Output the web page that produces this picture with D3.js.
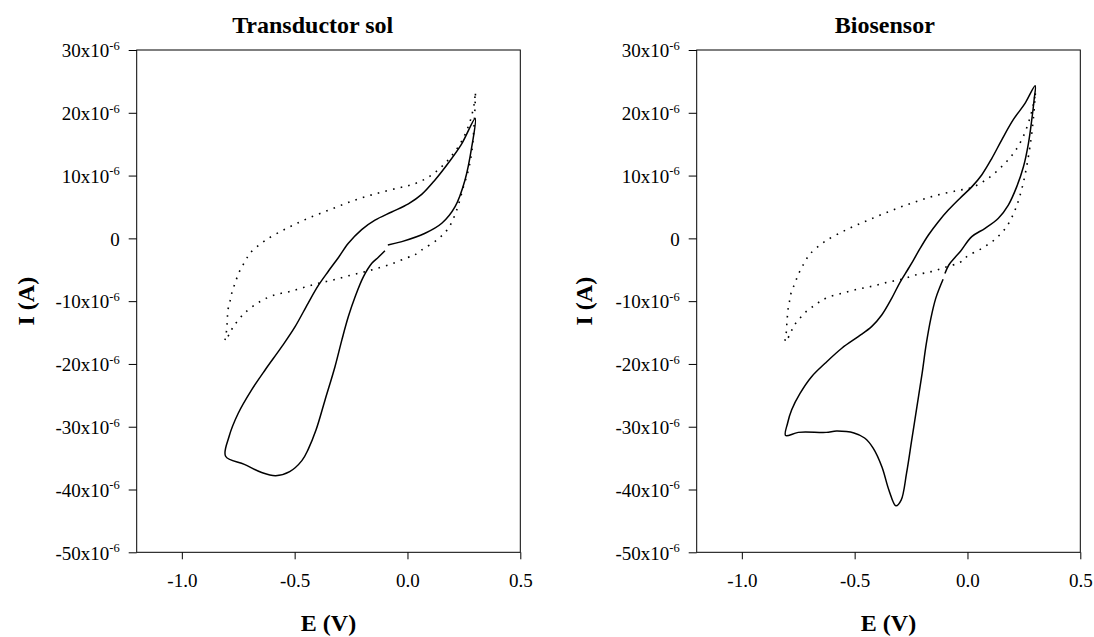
<!DOCTYPE html>
<html>
<head>
<meta charset="utf-8">
<script src="https://cdn.jsdelivr.net/npm/d3@7"></script>
<style>
    body { margin: 0; background: #fff; }
    svg { display: block; font-family: "Liberation Serif", "Times New Roman", serif; }
</style>
</head>
<body>
<svg id="chart" width="1094" height="637"></svg>
<script>
        // Axis ticks (E in V, I in units of 1e-6 A)
        const eTicks = [-1.0, -0.5, 0.0, 0.5];
        const iTicks = [30, 20, 10, 0, -10, -20, -30, -40, -50];
        const panelTitles = ["Transductor sol", "Biosensor"];

        // Transductor sol - solid voltammogram [E, I]
        const solSolid = [
            [-0.087, -1.05], [-0.025, -0.52], [0.078, 0.81], [0.152, 2.4], [0.211, 5.05],
            [0.255, 9.3], [0.285, 14.6], [0.300, 19.1], [0.241, 15.1], [0.181, 12.0],
            [0.122, 9.3], [0.063, 7.0], [0.004, 5.5], [-0.070, 4.2], [-0.144, 2.9],
            [-0.203, 1.4], [-0.262, -0.78], [-0.305, -3.0], [-0.350, -5.2], [-0.395, -7.5],
            [-0.440, -10.3], [-0.498, -14.06], [-0.557, -17.25], [-0.631, -20.96],
            [-0.690, -24.1], [-0.750, -27.86], [-0.791, -31.6], [-0.806, -34.7], [-0.723, -36.0],
            [-0.646, -37.3], [-0.584, -37.8], [-0.522, -37.15], [-0.468, -35.4], [-0.440, -33.6],
            [-0.405, -30.5], [-0.365, -25.7], [-0.321, -20.4], [-0.291, -16.2], [-0.262, -12.46],
            [-0.232, -9.3], [-0.195, -6.1], [-0.158, -3.97], [-0.129, -3.0], [-0.100, -1.96]
        ];

        // Transductor sol - dotted voltammogram
        const solDotted = [
            [-0.809, -16.2], [-0.804, -15.4], [-0.801, -14.2], [-0.798, -13.0], [-0.797, -11.8],
            [-0.791, -10.6], [-0.783, -9.55], [-0.776, -8.3], [-0.764, -7.15], [-0.753, -6.0],
            [-0.738, -4.77], [-0.720, -3.7], [-0.698, -2.38], [-0.632, -0.37], [-0.535, 1.6],
            [-0.440, 3.2], [-0.339, 4.63], [-0.241, 6.0], [-0.144, 7.07], [-0.046, 7.98],
            [0.019, 8.55], [0.081, 9.5], [0.144, 11.16], [0.199, 13.3], [0.243, 15.67],
            [0.277, 18.6], [0.296, 21.5], [0.301, 23.3], [0.296, 18.5], [0.285, 13.8],
            [0.270, 10.9], [0.248, 8.2], [0.218, 4.5], [0.181, 1.6], [0.134, -0.15],
            [0.063, -1.85], [0.031, -2.64], [-0.003, -3.1], [-0.064, -3.97], [-0.133, -4.77],
            [-0.198, -5.4], [-0.265, -5.99], [-0.329, -6.63], [-0.395, -7.15], [-0.458, -7.8],
            [-0.525, -8.5], [-0.589, -9.0], [-0.655, -10.1], [-0.716, -11.7], [-0.747, -12.9],
            [-0.772, -14.06], [-0.787, -15.1], [-0.809, -16.4]
        ];

        // Biosensor - solid voltammogram
        const bioSolid = [
            [-0.100, -5.6], [-0.082, -4.2], [-0.052, -2.9], [-0.030, -2.0], [0.019, 0.27],
            [0.078, 1.6], [0.137, 3.2], [0.181, 5.3], [0.218, 8.2], [0.248, 11.4],
            [0.270, 15.1], [0.285, 18.9], [0.295, 22.0], [0.300, 24.3], [0.255, 21.5],
            [0.203, 18.9], [0.152, 15.7], [0.108, 12.75], [0.063, 10.1], [0.019, 8.2],
            [-0.033, 6.4], [-0.085, 4.5], [-0.129, 2.66], [-0.173, 0.54], [-0.210, -1.6],
            [-0.240, -3.5], [-0.265, -5.0], [-0.299, -7.0], [-0.336, -9.55], [-0.380, -12.2],
            [-0.425, -14.06], [-0.484, -15.65], [-0.557, -17.5], [-0.631, -19.9], [-0.690, -22.0],
            [-0.742, -24.7], [-0.779, -27.3], [-0.797, -29.4], [-0.806, -31.4], [-0.750, -30.9],
            [-0.626, -30.9], [-0.580, -30.7], [-0.503, -31.0], [-0.456, -31.8], [-0.418, -33.4],
            [-0.379, -36.4], [-0.348, -40.1], [-0.317, -42.6], [-0.294, -41.7], [-0.270, -37.4],
            [-0.247, -32.1], [-0.224, -26.8], [-0.201, -21.5], [-0.183, -16.9], [-0.162, -12.7],
            [-0.141, -9.6], [-0.124, -7.9], [-0.108, -6.5]
        ];

        // Biosensor - dotted voltammogram
        const bioDotted = [
            [-0.809, -16.3], [-0.804, -15.4], [-0.802, -14.2], [-0.799, -13.0], [-0.797, -11.8],
            [-0.792, -10.6], [-0.786, -9.55], [-0.779, -8.3], [-0.764, -7.15], [-0.753, -6.0],
            [-0.738, -4.9], [-0.720, -3.7], [-0.698, -2.5], [-0.632, -0.5], [-0.535, 1.4],
            [-0.440, 2.9], [-0.339, 4.4], [-0.241, 5.7], [-0.144, 6.8], [-0.046, 7.6],
            [0.019, 8.1], [0.081, 9.3], [0.144, 11.16], [0.199, 13.3], [0.243, 15.9],
            [0.277, 19.2], [0.296, 22.0], [0.301, 23.3], [0.293, 19.5], [0.282, 15.9],
            [0.265, 12.0], [0.243, 8.2], [0.214, 4.8], [0.174, 1.9], [0.122, -0.15],
            [0.063, -1.6], [-0.003, -2.9], [-0.032, -3.8], [-0.098, -4.6], [-0.161, -5.3],
            [-0.227, -5.8], [-0.291, -6.5], [-0.356, -7.0], [-0.420, -7.6], [-0.487, -8.1],
            [-0.557, -8.75], [-0.619, -9.4], [-0.655, -10.1], [-0.683, -10.8], [-0.716, -11.7],
            [-0.747, -12.9], [-0.772, -14.06], [-0.787, -15.4], [-0.809, -16.4]
        ];

        const svg = d3.select('#chart');
        const plotTop = 50, plotBottom = 552.3;
        const serif = '"Liberation Serif", "Times New Roman", serif';

        function drawPanel(left, right, title, titleX, ylabX, solid, dotted) {
            const x = d3.scaleLinear().domain([-1.2, 0.5]).range([left, right]);
            const y = d3.scaleLinear().domain([-50, 30]).range([plotBottom, plotTop]);
            const g = svg.append('g');

            // Frame
            g.append('rect')
                .attr('x', left).attr('y', plotTop)
                .attr('width', right - left).attr('height', plotBottom - plotTop)
                .attr('fill', 'none').attr('stroke', '#000').attr('stroke-width', 1);

            // X axis
            const xAxis = g.append('g')
                .attr('transform', `translate(0,${plotBottom})`)
                .call(d3.axisBottom(x).tickValues(eTicks).tickSize(7).tickSizeOuter(0)
                    .tickPadding(14).tickFormat(d => d.toFixed(1)))
                .attr('font-family', serif).attr('font-size', 19);
            xAxis.select('.domain').remove();
            xAxis.selectAll('text').attr('fill', '#000');

            // Y axis with "x10-6" labels
            const yAxis = g.append('g')
                .attr('transform', `translate(${left},0)`)
                .call(d3.axisLeft(y).tickValues(iTicks).tickSize(8).tickSizeOuter(0).tickPadding(9))
                .attr('font-family', serif).attr('font-size', 19);
            yAxis.select('.domain').remove();
            yAxis.selectAll('.tick text').each(function(d) {
                const t = d3.select(this).text('').attr('fill', '#000').attr('dy', '0.36em');
                if (d === 0) {
                    t.text('0');
                } else {
                    t.append('tspan').text(d + 'x10');
                    t.append('tspan').attr('font-size', 12.5).attr('dy', -7.5).text('-6');
                }
            });

            // Curves
            const line = d3.line()
                .x(d => x(d[0]))
                .y(d => y(d[1]))
                .curve(d3.curveCatmullRom.alpha(0.5));

            g.append('path').datum(dotted)
                .attr('d', line).attr('fill', 'none')
                .attr('stroke', '#000').attr('stroke-width', 1.6)
                .attr('stroke-dasharray', '1.6 6.2');

            g.append('path').datum(solid)
                .attr('d', line).attr('fill', 'none')
                .attr('stroke', '#000').attr('stroke-width', 1.5);

            // Titles
            g.append('text')
                .attr('x', titleX).attr('y', 32.5)
                .attr('text-anchor', 'middle').attr('font-weight', 'bold').attr('font-size', 24)
                .text(title);

            g.append('text')
                .attr('x', (left + right) / 2).attr('y', 631)
                .attr('text-anchor', 'middle').attr('font-weight', 'bold').attr('font-size', 24)
                .text('E (V)');

            g.append('text')
                .attr('transform', `translate(${ylabX},${(plotTop + plotBottom) / 2}) rotate(-90)`)
                .attr('text-anchor', 'middle').attr('font-weight', 'bold').attr('font-size', 24)
                .text('I (A)');
        }

        drawPanel(136.7, 520.3, panelTitles[0], 312.7, 34, solSolid, solDotted);
        drawPanel(696.7, 1080.3, panelTitles[1], 884.8, 592, bioSolid, bioDotted);
</script>
</body>
</html>
